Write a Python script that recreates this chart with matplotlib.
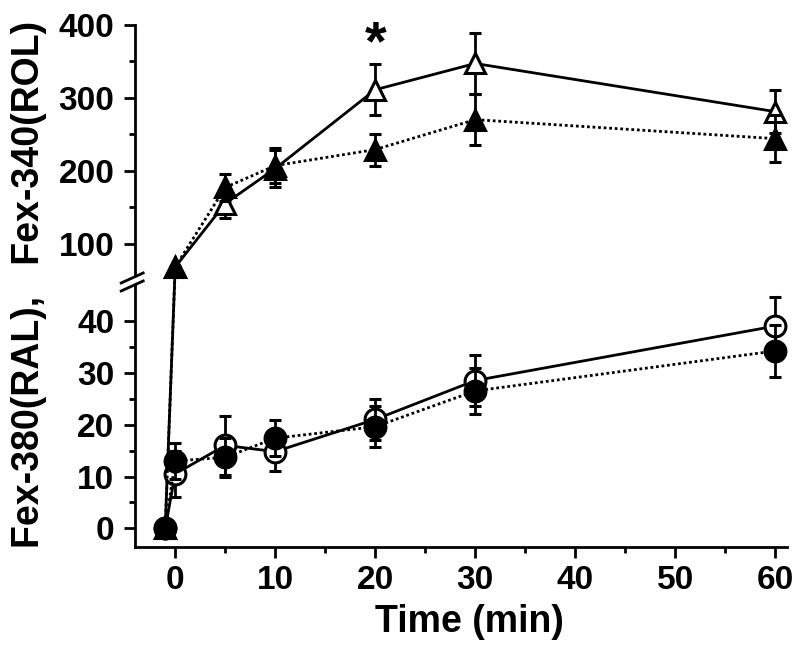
import numpy as np
import matplotlib
matplotlib.use("Agg")
import matplotlib.pyplot as plt

plt.rcParams['font.family'] = ['Liberation Sans', 'DejaVu Sans']
plt.rcParams['font.weight'] = 'bold'

# time points (min), -1 is the baseline point before dosing
time = [-1, 0, 5, 10, 20, 30, 60]

# Fex-340 (ROL) - triangles
rol_open = [0, 68, 155, 203, 311, 347, 281]
rol_open_err = [0, 0, 20, 25, 35, 42, 29]
rol_filled = [0, 68, 177, 207, 229, 270, 244]
rol_filled_err = [0, 0, 18, 24, 22, 35, 32]

# Fex-380 (RAL) - circles
ral_open = [0, 10.5, 16, 14.8, 21, 28.5, 39]
ral_open_err = [0, 4.5, 5.7, 3.8, 4, 5, 5.6]
ral_filled = [0, 13, 13.7, 17.4, 19.6, 26.5, 34.2]
ral_filled_err = [0, 3.5, 3.7, 3.4, 4, 4.5, 5]

xticks = [0, 10, 20, 30, 40, 50, 60]
yticks = [0, 10, 20, 30, 40, 100, 200, 300, 400]
yminor = [5, 15, 25, 35, 150, 250, 350]

# broken y axis: everything above BRK gets squeezed
BRK = 47.5
SQZ = 0.727 / 5.17

def fwd(v):
    v = np.asarray(v, dtype=float)
    return np.where(v <= BRK, v, BRK + (v - BRK) * SQZ)

def inv(u):
    u = np.asarray(u, dtype=float)
    return np.where(u <= BRK, u, BRK + (u - BRK) / SQZ)

fig = plt.figure(figsize=(8, 6.53), dpi=100)
fig.subplots_adjust(left=0.169, right=0.984, top=0.962, bottom=0.163)
ax = fig.add_subplot(111)
ax.set_yscale('function', functions=(fwd, inv))

def draw(y, err, marker, filled, ls, z):
    face = 'black' if filled else 'white'
    ax.plot(time, y, color='black', lw=2, linestyle=ls, zorder=z)
    ax.errorbar(time, y, yerr=err, fmt=marker, ms=15, mfc=face, mec='black',
                mew=2.2, ecolor='black', elinewidth=2, capsize=4.5, capthick=2,
                zorder=z + 1)

dots = (0, (1, 1))
draw(rol_open, rol_open_err, '^', False, '-', 2)
draw(rol_filled, rol_filled_err, '^', True, dots, 4)
draw(ral_open, ral_open_err, 'o', False, '-', 2)
draw(ral_filled, ral_filled_err, 'o', True, dots, 4)

ax.text(20, 372, '*', ha='center', va='center', fontsize=40, fontweight='bold')

ax.set_xlim(-4, 61.2)
ax.set_ylim(-3.5, 400)
ax.set_xticks(xticks)
ax.set_xticks([5, 15, 25, 35, 45, 55], minor=True)
ax.set_yticks(yticks)
ax.set_yticks(yminor, minor=True)
ax.set_yticklabels([str(t) for t in yticks])

for s in ['top', 'right']:
    ax.spines[s].set_visible(False)
for s in ['left', 'bottom']:
    ax.spines[s].set_linewidth(2)
ax.tick_params(which='major', direction='out', length=8, width=2,
               labelsize=24)
ax.tick_params(axis='y', which='major', pad=7)
ax.tick_params(axis='x', which='major', pad=5)
ax.tick_params(which='minor', direction='out', length=4, width=2)
for lab in ax.get_xticklabels() + ax.get_yticklabels():
    lab.set_fontweight('bold')

ax.set_xlabel('Time (min)', fontsize=27, fontweight='bold')
ax.xaxis.set_label_coords(0.512, -0.11)
fig.text(0.036, 0.565, 'Fex-380(RAL),   Fex-340(ROL)', rotation=90,
         ha='center', va='center', fontsize=27, fontweight='bold')

# break marks on the y axis
yb = ax.transAxes.inverted().transform(ax.transData.transform((0, BRK)))[1]
w = 652.0
h = 0.799 * 653
ax.fill([-3 / w, 3 / w, 3 / w, -3 / w],
        [yb - 3 / h, yb + 1 / h, yb + 6 / h, yb + 2 / h],
        color='white', transform=ax.transAxes, clip_on=False, zorder=5)
for off in (-4, 4):
    xs = [-14 / w, 8 / w]
    ys = [yb + (off - 5) / h, yb + (off + 5) / h]
    ax.plot(xs, ys, color='black', lw=2, transform=ax.transAxes,
            clip_on=False, zorder=6)

fig.savefig('out.png', dpi=100)
